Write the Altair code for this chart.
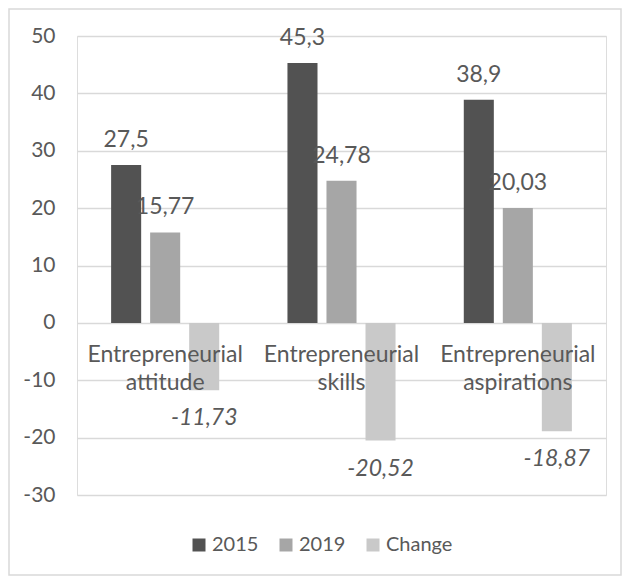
import altair as alt
import pandas as pd

categories = ["Entrepreneurial attitude", "Entrepreneurial skills", "Entrepreneurial aspirations"]
series = ["2015", "2019", "Change"]
v2015 = [27.5, 45.3, 38.9]
v2019 = [15.77, 24.78, 20.03]
change = [-11.73, -20.52, -18.87]
colors = ["#525252", "#a6a6a6", "#c9c9c9"]
y_ticks = [-30, -20, -10, 0, 10, 20, 30, 40, 50]

rows = []
for i, c in enumerate(categories):
    for s, vals in zip(series, [v2015, v2019, change]):
        v = vals[i]
        rows.append({"category": c, "series": s, "value": v,
                     "label": f"{v:g}".replace(".", ",")})
df = pd.DataFrame(rows)

cat_df = pd.DataFrame({
    "category": categories,
    "line1": [c.split(" ")[0] for c in categories],
    "line2": [c.split(" ")[1] for c in categories],
})

FONT = "Lato"
TXT = "#595959"
FS = 23

x_enc = alt.X("category:N", sort=categories, axis=None,
              scale=alt.Scale(paddingInner=0.387, paddingOuter=0.1935))
xo_enc = alt.XOffset("series:N", sort=series,
                     scale=alt.Scale(paddingInner=0.23, paddingOuter=0))
y_enc = alt.Y("value:Q",
              scale=alt.Scale(domain=[-30, 50], nice=False, zero=False),
              axis=alt.Axis(values=y_ticks, title=None, domain=False, ticks=False,
                            labelExpr="toString(datum.value)",
                            labelFontSize=21, labelColor=TXT, labelFont=FONT,
                            labelPadding=22, grid=True, gridColor="#d9d9d9",
                            gridWidth=1.5))

base = alt.Chart(df)

bars = base.mark_bar().encode(
    x=x_enc, xOffset=xo_enc, y=y_enc,
    color=alt.Color("series:N", sort=series,
                    scale=alt.Scale(domain=series, range=colors),
                    legend=alt.Legend(title=None, orient="none", direction="horizontal",
                                      legendX=112, legendY=499,
                                      symbolType="square", symbolSize=169,
                                      symbolStrokeWidth=0, labelFontSize=20,
                                      labelFont=FONT, labelColor=TXT,
                                      labelOffset=3, columnPadding=17)),
)

pos_labels = base.transform_filter("datum.value > 0").mark_text(
    dy=-25, baseline="middle", fontSize=FS, font=FONT, color=TXT
).encode(x=x_enc, xOffset=xo_enc, y="value:Q", text="label:N")

neg_labels = base.transform_filter("datum.value < 0").mark_text(
    dy=28, baseline="middle", fontSize=FS, font=FONT, color=TXT, fontStyle="italic"
).encode(x=x_enc, xOffset=xo_enc, y="value:Q", text="label:N")

cat_base = alt.Chart(cat_df)
cat1 = cat_base.mark_text(dy=32, baseline="middle", fontSize=FS, font=FONT, color=TXT).encode(
    x=alt.X("category:N", sort=categories), y=alt.datum(0), text="line1:N")
cat2 = cat_base.mark_text(dy=60, baseline="middle", fontSize=FS, font=FONT, color=TXT).encode(
    x=alt.X("category:N", sort=categories), y=alt.datum(0), text="line2:N")

border = alt.Chart(alt.Data(values=[{}])).mark_rect(
    filled=False, stroke="#d9d9d9", strokeWidth=1.5
).encode(x=alt.value(-68), x2=alt.value(544), y=alt.value(-27), y2=alt.value(539))

chart = alt.layer(bars, pos_labels, neg_labels, cat1, cat2, border).properties(
    width=529, height=459,
    padding={"left": 69, "top": 28, "right": 16, "bottom": 81},
    autosize=alt.AutoSizeParams(type="none"),
).configure_view(stroke=None).configure(font=FONT)

chart.save("out.html", embed_options={"renderer": "svg", "actions": False})
